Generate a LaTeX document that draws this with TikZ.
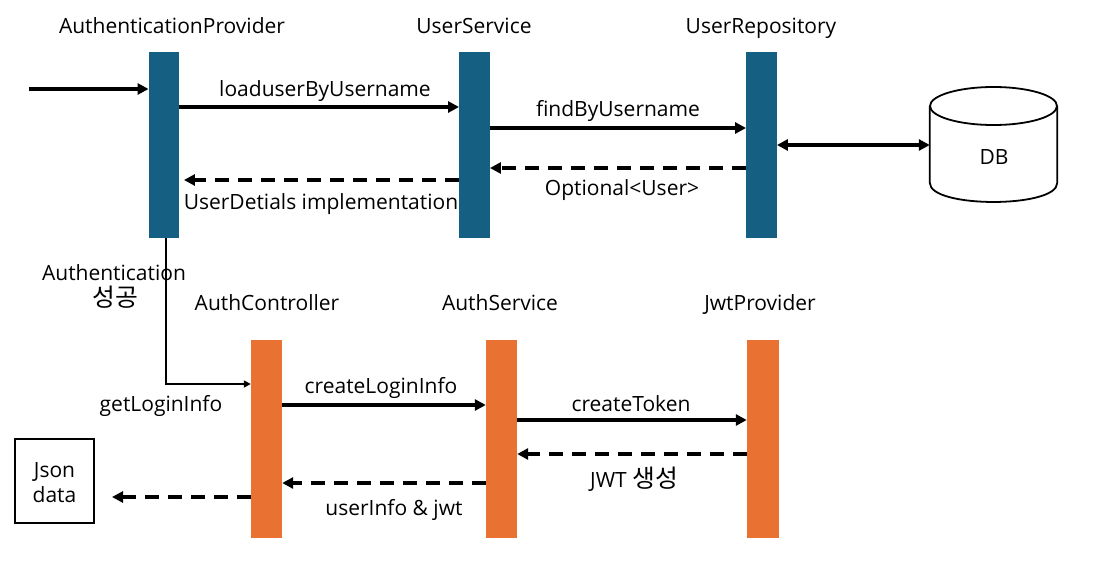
\documentclass[tikz,border=0pt]{standalone}
\usepackage{fontspec}
\setmainfont{Open Sans}
\newfontfamily\kr[Scale=1.18]{Noto Sans CJK KR}
\usetikzlibrary{arrows.meta}
\definecolor{barblue}{HTML}{156082}
\definecolor{barorange}{HTML}{E97132}
\tikzset{
  bluebar/.style={fill=barblue, draw=none, inner sep=0, minimum width=30.5pt, minimum height=186pt},
  orangebar/.style={fill=barorange, draw=none, inner sep=0, minimum width=31pt, minimum height=198pt},
  lbl/.style={inner sep=0, anchor=base, font=\fontsize{21}{24}\selectfont},
  msg/.style={line width=3.2pt, -{Triangle[length=11pt,width=11pt]}},
  ret/.style={line width=3.2pt, dash pattern=on 14pt off 9pt, -{Triangle[length=11pt,width=11pt]}},
  both/.style={line width=3.2pt, {Triangle[length=11pt,width=11pt]}-{Triangle[length=11pt,width=11pt]}},
  thinarrow/.style={line width=1.6pt, -{Triangle[length=7pt,width=7pt]}},
  cyl/.style={draw, line width=1.8pt},
}
\begin{document}
\begin{tikzpicture}[x=1pt,y=-1pt]
\useasboundingbox (0,0) rectangle (1100,573);
\fill[white] (0,0) rectangle (1100,573);

% bars
\node[bluebar] (ap) at (164,145) {};
\node[bluebar] (us) at (474.5,145) {};
\node[bluebar] (ur) at (761.5,145) {};
\node[orangebar] (ac) at (266.5,439) {};
\node[orangebar] (as) at (501.5,439) {};
\node[orangebar, minimum width=32pt] (jp) at (763,439) {};

% titles
\node[lbl] (tap) at (172,33) {AuthenticationProvider};
\node[lbl] (tus) at (474,33) {UserService};
\node[lbl] (tur) at (761,33) {UserRepository};
\node[lbl] (tac) at (267,310) {AuthController};
\node[lbl] (tas) at (500,310) {AuthService};
\node[lbl] (tjp) at (760,310) {JwtProvider};

% DB cylinder
\node[inner sep=0, minimum width=127pt, minimum height=115pt] (db) at (993.5,144.5) {};
\draw[cyl, fill=white] (db.west |- 0,106) -- (db.west |- 0,183)
  .. controls (930,208.3) and (1057,208.3) .. (db.east |- 0,183) -- (db.east |- 0,106);
\draw[cyl] (993.5,106) ellipse [x radius=63.5, y radius=19];
\node[lbl] (dbt) at (994,164) {DB};

% Json box
\node[draw, line width=1.8pt, minimum width=79pt, minimum height=84pt, inner sep=0] (json) at (54.5,481) {};
\node[lbl] (jt1) at (54.5,477) {Json};
\node[lbl] (jt2) at (54.5,502) {data};

% upper messages
\coordinate (start) at (29,89);
\draw[msg] (start) -- (ap.west |- 0,89);
\draw[msg] (ap.east |- 0,107) -- (us.west |- 0,107);
\node[lbl] (l1) at (325,96) {loaduserByUsername};
\draw[msg] (us.east |- 0,128) -- (ur.west |- 0,128);
\node[lbl] (l2) at (618,116) {findByUsername};
\draw[ret] (ur.west |- 0,168) -- (us.east |- 0,168);
\node[lbl] (l3) at (622,195) {Optional<User>};
\draw[ret, shorten >=4.5pt] (us.west |- 0,180) -- (ap.east |- 0,180);
\node[lbl] (l4) at (321,209) {UserDetials implementation};
\draw[both] (ur.east |- 0,145) -- (db.west |- 0,145);

% authentication success
\node[lbl] (l5) at (114,280) {Authentication};
\node[lbl] (l6) at (115,306) {\kr 성공};
\draw[thinarrow] (ap.south -| 166,0) |- (ac.west |- 0,384);

% lower messages
\draw[msg] (ac.east |- 0,405) -- (as.west |- 0,405);
\node[lbl] (l7) at (381,393) {createLoginInfo};
\node[lbl] (l8) at (161,411) {getLoginInfo};
\draw[msg] (as.east |- 0,420) -- (jp.west |- 0,420);
\node[lbl] (l9) at (631,411) {createToken};
\draw[ret] (jp.west |- 0,454) -- (as.east |- 0,454);
\node[lbl] (l10) at (634,487) {JWT {\kr 생성}};
\draw[ret] (as.west |- 0,483) -- (ac.east |- 0,483);
\node[lbl] (l11) at (394,515) {userInfo \& jwt};
\coordinate (jsonend) at (112,497);
\draw[ret] (ac.west |- 0,497) -- (jsonend);
\end{tikzpicture}
\end{document}
